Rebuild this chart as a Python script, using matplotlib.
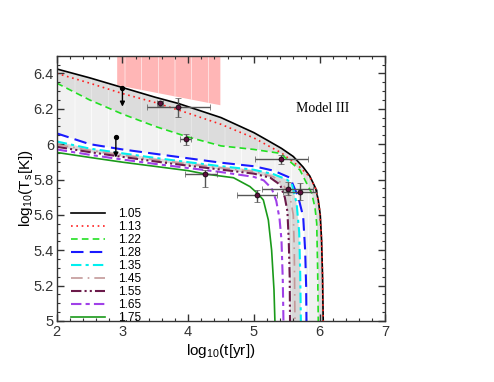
import numpy as np
import matplotlib
matplotlib.use('Agg')
import matplotlib.pyplot as plt
from matplotlib.ticker import MultipleLocator, FormatStrFormatter

plt.rcParams['font.family'] = ['Liberation Sans', 'DejaVu Sans']
plt.rcParams['mathtext.fontset'] = 'custom'
plt.rcParams['mathtext.rm'] = 'Liberation Sans'
plt.rcParams['mathtext.it'] = 'Liberation Sans'
plt.rcParams['hatch.linewidth'] = 0.5

# cooling curves
x105 = [2.0, 2.5, 3.0, 3.5, 3.85, 4.5, 5.0, 5.2, 5.42, 5.6, 5.75, 5.85, 5.94, 5.98, 6.01, 6.03, 6.045, 6.055]
y105 = [6.425, 6.375, 6.32, 6.265, 6.23, 6.15, 6.065, 6.023, 5.976, 5.93, 5.87, 5.82, 5.75, 5.684, 5.6, 5.458, 5.25, 5.0]
x113 = [2.0, 2.5, 3.0, 3.5, 4.0, 4.5, 5.0, 5.42, 5.7, 5.85, 5.95, 6.0, 6.03, 6.045, 6.055]
y113 = [6.40, 6.345, 6.286, 6.235, 6.175, 6.112, 6.035, 5.95, 5.87, 5.815, 5.74, 5.63, 5.46, 5.25, 5.0]
x122 = [2.0, 2.5, 3.0, 3.5, 4.0, 4.5, 5.0, 5.4, 5.7, 5.88, 5.93, 5.956, 5.97, 5.98]
y122 = [6.345, 6.25, 6.17, 6.10, 6.04, 5.99, 5.97, 5.948, 5.854, 5.722, 5.64, 5.553, 5.3, 5.0]
x128 = [2.0, 2.5, 3.0, 3.5, 4.0, 4.5, 5.0, 5.3, 5.55, 5.676, 5.75, 5.78, 5.795, 5.80]
y128 = [6.061, 6.0, 5.97, 5.945, 5.92, 5.895, 5.875, 5.85, 5.81, 5.70, 5.59, 5.40, 5.2, 5.0]
x135 = [2.0, 2.5, 3.0, 3.5, 4.0, 4.5, 5.0, 5.3, 5.5, 5.576, 5.65, 5.69, 5.705, 5.715]
y135 = [6.015, 5.975, 5.948, 5.922, 5.898, 5.875, 5.855, 5.83, 5.80, 5.778, 5.666, 5.5, 5.27, 5.0]
x145 = [2.0, 2.5, 3.0, 3.5, 4.0, 4.5, 5.0, 5.3, 5.45, 5.55, 5.60, 5.615, 5.625]
y145 = [5.998, 5.965, 5.938, 5.912, 5.888, 5.866, 5.845, 5.815, 5.77, 5.70, 5.60, 5.40, 5.0]
x155 = [2.0, 2.5, 3.0, 3.5, 4.0, 4.5, 5.0, 5.25, 5.40, 5.47, 5.51, 5.53, 5.545, 5.55]
y155 = [5.985, 5.955, 5.928, 5.902, 5.878, 5.856, 5.833, 5.81, 5.77, 5.70, 5.62, 5.46, 5.25, 5.0]
x165 = [2.0, 2.5, 3.0, 3.5, 4.0, 4.5, 5.0, 5.15, 5.27, 5.34, 5.39, 5.42, 5.44, 5.45]
y165 = [5.97, 5.94, 5.913, 5.888, 5.865, 5.842, 5.815, 5.795, 5.75, 5.68, 5.58, 5.458, 5.23, 5.0]
x175 = [2.0, 2.5, 3.0, 3.5, 4.0, 4.26, 4.69, 4.94, 5.06, 5.144, 5.22, 5.27, 5.306, 5.32]
y175 = [5.953, 5.925, 5.898, 5.874, 5.85, 5.831, 5.81, 5.76, 5.72, 5.684, 5.571, 5.40, 5.176, 5.0]

labels = ['1.05', '1.13', '1.22', '1.28', '1.35', '1.45', '1.55', '1.65', '1.75']

# observed stars
obs_x = [3.57, 3.85, 3.96, 4.26, 5.42, 5.04, 5.52, 5.70]
obs_y = [6.23, 6.21, 6.027, 5.83, 5.916, 5.71, 5.746, 5.731]
obs_xlo = [0.05, 0.48, 0.085, 0.31, 0.40, 0.30, 0.40, 0.25]
obs_xhi = [0.05, 0.48, 0.085, 0.18, 0.41, 0.31, 0.38, 0.26]
obs_ylo = [0.015, 0.055, 0.03, 0.07, 0.028, 0.035, 0.033, 0.047]
obs_yhi = [0.015, 0.05, 0.03, 0.025, 0.023, 0.03, 0.042, 0.048]

# upper limits
ul_x = [3.0, 2.9]
ul_y = [6.32, 6.042]
ul_len = [0.108, 0.118]

# red excluded region
red_x = [2.92, 4.49]
red_ybot = [6.333, 6.22]

fig = plt.figure(figsize=(4.94, 3.82), dpi=100)
ax = fig.add_axes([0.1148, 0.1597, 0.6652, 0.6945])

# shaded bands between curves
ax.fill(np.concatenate([x105, x122[::-1]]), np.concatenate([y105, y122[::-1]]),
        facecolor='#dcdcdc', edgecolor='#ececec', hatch='|', linewidth=0, zorder=1)
ax.fill(np.concatenate([x122, x128[::-1]]), np.concatenate([y122, y128[::-1]]),
        facecolor='#f1f1f1', edgecolor='white', hatch='|', linewidth=0, zorder=1)
ax.fill(np.concatenate([x135, x155[::-1]]), np.concatenate([y135, y155[::-1]]),
        facecolor='#d8d8d8', edgecolor='#eaeaea', hatch='|', linewidth=0, zorder=1)

ax.fill([red_x[0], red_x[1], red_x[1], red_x[0]], [red_ybot[0], red_ybot[1], 6.5, 6.5],
        facecolor='#ffb6b6', edgecolor='#fff0f0', hatch='|', linewidth=0, zorder=1)

lw = 1.2
ax.plot(x105, y105, color='black', lw=lw, label=labels[0])
ax.plot(x113, y113, color='#ff2020', lw=lw, dashes=(1, 2.2), label=labels[1])
ax.plot(x122, y122, color='#22e022', lw=lw, dashes=(4, 2.5), label=labels[2])
ax.plot(x128, y128, color='#1a1aff', lw=1.5, dashes=(6, 3), label=labels[3])
ax.plot(x135, y135, color='#00f0f0', lw=1.5, dashes=(5, 2, 1.5, 2), label=labels[4])
ax.plot(x145, y145, color='#c49a9a', lw=1.2, dashes=(7, 3, 1, 3), label=labels[5])
ax.plot(x155, y155, color='#6b1a4a', lw=1.5, dashes=(5, 1.5, 1, 1.5, 1, 1.5), label=labels[6])
ax.plot(x165, y165, color='#a040e8', lw=1.5, dashes=(5, 2, 2, 2), label=labels[7])
ax.plot(x175, y175, color='#1a9a1a', lw=1.2, label=labels[8])

ax.errorbar(obs_x, obs_y, xerr=[obs_xlo, obs_xhi], yerr=[obs_ylo, obs_yhi], fmt='o',
            ms=3.6, mfc='#5c0f3c', mec='black', mew=0.5, ecolor='#555555', elinewidth=1,
            capsize=2.2, capthick=1, zorder=5)

for x, y, d in zip(ul_x, ul_y, ul_len):
    ax.annotate('', xy=(x, y - d), xytext=(x, y),
                arrowprops=dict(arrowstyle='-|>', color='black', lw=1, mutation_scale=7,
                                shrinkA=0, shrinkB=0), zorder=6)
ax.plot(ul_x, ul_y, 'o', color='black', ms=2.8, zorder=6)

ax.text(6.05, 6.204, 'Model III', ha='center', va='center', fontsize=10, family='Liberation Serif')

ax.set_xlim(2, 7)
ax.set_ylim(5, 6.5)
ax.xaxis.set_major_locator(MultipleLocator(1))
ax.xaxis.set_minor_locator(MultipleLocator(0.2))
ax.yaxis.set_major_locator(MultipleLocator(0.2))
ax.yaxis.set_minor_locator(MultipleLocator(0.05))
ax.yaxis.set_major_formatter(FormatStrFormatter('%g'))
ax.tick_params(which='both', direction='in', top=True, right=True, labelsize=10.5, colors='#333333')
ax.tick_params(which='major', length=5, width=1)
ax.tick_params(which='minor', length=2.5, width=0.8)
ax.tick_params(axis='x', pad=3)
ax.tick_params(axis='y', pad=2)
for s in ax.spines.values():
    s.set_color('#333333')
    s.set_linewidth(1)

ax.set_xlabel(r'log$_{10}$(t[yr])', fontsize=11, labelpad=2)
ax.set_ylabel(r'log$_{10}$(T$_{\rm s}$[K])', fontsize=11, labelpad=-1)

ax.legend(loc='upper left', bbox_to_anchor=(0.045, 0.425), frameon=False, fontsize=8.5,
          handlelength=2.8, handletextpad=1.15, labelspacing=0.08, borderpad=0, borderaxespad=0)

fig.savefig('out.png', dpi=100)
